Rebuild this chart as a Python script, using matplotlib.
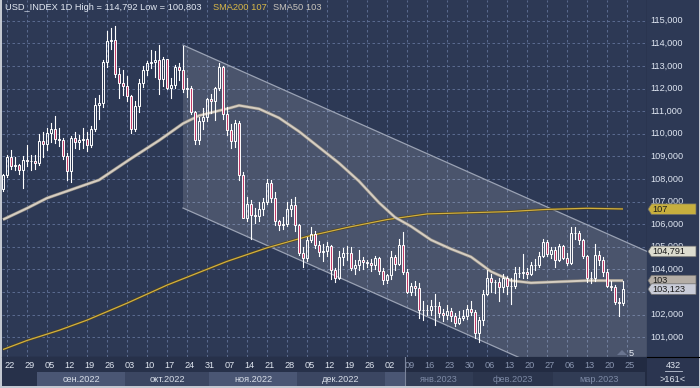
import matplotlib
matplotlib.use('Agg')
import matplotlib.pyplot as plt
from matplotlib.patches import Rectangle, Polygon
import numpy as np
import pandas as pd

plt.rcParams['font.family'] = ['Liberation Sans', 'DejaVu Sans']

# ---- data: USD_INDEX daily, 19 Aug 2022 .. 24 Mar 2023 ----
dates = pd.bdate_range('2022-08-19', '2023-03-24')

opens = [107.55,
         108.16, 108.99, 108.59, 108.62, 108.40,
         108.85, 108.78, 108.77, 108.70, 109.69,
         109.55, 110.01, 110.23, 109.76, 109.71,
         109.00, 108.33, 109.80, 109.63, 109.70,
         109.76, 109.48, 110.20, 111.26, 111.35,
         113.19, 114.10, 114.16, 112.62, 112.24,
         112.12, 111.68, 110.19, 111.22, 112.25,
         112.80, 113.15, 113.19, 113.26, 112.40,
         113.31, 112.04, 112.16, 112.97, 112.82,
         111.97, 112.03, 110.95, 109.73, 110.57,
         110.75, 111.53, 111.44, 112.04, 112.93,
         110.86, 110.17, 109.67, 110.48, 108.18,
         106.29, 106.89, 106.40, 106.35, 106.67,
         106.97, 107.81, 107.17, 106.15, 105.96,
         106.02, 106.68, 106.83, 105.95, 104.72,
         104.51, 105.29, 105.57, 105.09, 104.78,
         104.82, 105.04, 103.99, 103.62, 104.56,
         104.70, 104.71, 104.05, 104.19, 104.41,
         104.32, 104.26, 104.21, 104.49, 103.93,
         103.52, 103.75, 104.53, 104.25, 105.09,
         103.88, 103.01, 103.25, 103.18, 102.19,
         102.20, 102.19, 102.38, 102.36, 102.06,
         101.99, 102.14, 101.92, 101.64, 101.83,
         101.92, 102.26, 102.09, 101.20, 101.75,
         102.92, 103.62, 103.42, 103.42, 103.23,
         103.63, 103.28, 103.25, 103.82, 103.85,
         103.88, 103.81, 104.18, 104.20, 104.61,
         105.21, 104.66, 104.87, 104.43, 105.02,
         104.52, 104.29, 105.61, 105.59, 105.28,
         104.58, 103.60, 103.61, 104.65, 104.39,
         103.86, 103.28, 103.20, 102.57, 102.50]

highs = [108.22,
         109.06, 109.27, 108.95, 108.68, 109.00,
         109.48, 109.05, 109.05, 109.99, 110.09,
         110.27, 110.46, 110.79, 110.25, 109.83,
         109.15, 109.90, 110.07, 109.95, 110.26,
         110.08, 110.35, 111.57, 111.72, 113.26,
         114.53, 114.68, 114.78, 112.92, 112.80,
         112.55, 111.70, 111.45, 112.40, 112.99,
         113.21, 113.72, 113.65, 113.92, 113.38,
         113.32, 112.45, 113.06, 113.15, 113.89,
         112.48, 112.11, 111.00, 110.76, 111.12,
         111.59, 111.75, 112.05, 113.15, 113.00,
         111.17, 110.45, 110.59, 110.56, 108.30,
         107.20, 107.08, 106.70, 106.97, 107.15,
         107.99, 107.95, 107.40, 106.20, 106.30,
         106.96, 107.12, 107.18, 106.00, 105.00,
         105.45, 105.85, 105.70, 105.25, 105.10,
         105.23, 105.07, 104.05, 104.80, 104.93,
         105.05, 105.00, 104.40, 104.86, 104.53,
         104.40, 104.45, 104.58, 104.55, 104.05,
         103.80, 104.80, 104.65, 105.32, 105.63,
         104.02, 103.40, 103.50, 103.39, 102.60,
         102.40, 102.62, 102.90, 102.55, 102.25,
         102.40, 102.30, 102.07, 102.15, 102.18,
         102.40, 102.60, 102.18, 101.91, 103.07,
         103.96, 103.78, 103.54, 103.60, 103.80,
         103.70, 103.60, 104.10, 104.10, 104.67,
         104.05, 104.32, 104.45, 104.75, 105.36,
         105.30, 105.00, 105.00, 105.10, 105.08,
         104.70, 105.88, 105.88, 105.70, 105.35,
         104.62, 103.90, 105.10, 104.80, 104.55,
         104.00, 103.50, 103.30, 102.75, 103.50]

lows = [107.46,
        108.09, 108.45, 108.40, 108.20, 107.58,
        108.55, 108.40, 108.45, 108.60, 108.95,
        109.30, 109.65, 109.60, 109.44, 108.86,
        107.97, 107.88, 109.35, 109.33, 109.37,
        109.25, 109.40, 110.10, 110.65, 111.20,
        112.96, 113.75, 112.50, 111.60, 111.73,
        111.46, 110.05, 110.10, 110.95, 112.06,
        112.59, 112.92, 112.53, 111.76, 112.13,
        111.98, 111.60, 112.02, 112.36, 111.83,
        111.63, 110.86, 109.54, 109.53, 110.20,
        110.55, 110.90, 110.60, 111.95, 110.66,
        109.95, 109.37, 109.40, 107.97, 106.28,
        106.13, 105.34, 106.06, 106.15, 106.40,
        106.90, 107.00, 105.96, 105.73, 105.80,
        105.90, 106.35, 105.70, 104.65, 104.11,
        104.38, 105.20, 104.95, 104.60, 104.35,
        104.60, 103.57, 103.44, 103.55, 104.20,
        104.40, 103.97, 103.80, 103.97, 104.02,
        104.10, 103.93, 104.00, 103.79, 103.37,
        103.38, 103.55, 103.97, 104.20, 103.77,
        102.93, 102.88, 102.85, 101.85, 101.77,
        101.98, 102.00, 101.53, 101.88, 101.70,
        101.80, 101.70, 101.50, 101.56, 101.75,
        101.80, 101.99, 100.97, 100.80, 101.55,
        102.85, 103.00, 102.95, 102.60, 103.00,
        102.90, 102.48, 103.18, 103.65, 103.60,
        103.60, 103.75, 103.95, 104.10, 104.55,
        104.60, 104.50, 104.10, 104.38, 104.45,
        104.17, 104.25, 105.35, 105.10, 104.50,
        103.45, 103.40, 103.50, 104.20, 103.70,
        103.20, 103.10, 102.45, 101.92, 102.40]

closes = [108.16,
          108.99, 108.59, 108.62, 108.40, 108.85,
          108.78, 108.77, 108.70, 109.69, 109.55,
          110.01, 110.23, 109.76, 109.71, 109.00,
          108.33, 109.80, 109.63, 109.70, 109.76,
          109.48, 110.20, 111.26, 111.35, 113.19,
          114.10, 114.16, 112.62, 112.24, 112.12,
          111.68, 110.19, 111.22, 112.25, 112.80,
          113.15, 113.19, 113.26, 112.40, 113.31,
          112.04, 112.16, 112.97, 112.82, 111.97,
          112.03, 110.95, 109.73, 110.57, 110.75,
          111.53, 111.44, 112.04, 112.93, 110.86,
          110.17, 109.67, 110.48, 108.18, 106.29,
          106.89, 106.40, 106.35, 106.67, 106.97,
          107.81, 107.17, 106.15, 105.96, 106.02,
          106.68, 106.83, 105.95, 104.72, 104.51,
          105.29, 105.57, 105.09, 104.78, 104.82,
          105.04, 103.99, 103.62, 104.56, 104.70,
          104.71, 104.05, 104.19, 104.41, 104.32,
          104.26, 104.21, 104.49, 103.93, 103.52,
          103.75, 104.53, 104.25, 105.09, 103.88,
          103.01, 103.25, 103.18, 102.19, 102.20,
          102.19, 102.38, 102.36, 102.06, 101.99,
          102.14, 101.92, 101.64, 101.83, 101.92,
          102.26, 102.09, 101.20, 101.75, 102.92,
          103.62, 103.42, 103.42, 103.23, 103.63,
          103.28, 103.25, 103.82, 103.85, 103.88,
          103.81, 104.18, 104.20, 104.61, 105.21,
          104.66, 104.87, 104.43, 105.02, 104.52,
          104.29, 105.61, 105.59, 105.28, 104.58,
          103.60, 103.61, 104.65, 104.39, 103.86,
          103.28, 103.20, 102.57, 102.50, 103.12]

# moving averages (bar index, value)
sma50_idx = [-1, 5, 10, 23, 31, 38, 44, 48, 56, 58, 63, 68, 73, 78, 83, 88,
             93, 97, 101, 106, 111, 116, 121, 126, 131, 138, 145, 154]
sma50_val = [106.2, 106.7, 107.15, 107.95, 108.9, 109.7, 110.45, 110.8, 111.15,
             111.25, 111.1, 110.7, 110.1, 109.4, 108.7, 107.9, 106.95, 106.3,
             105.9, 105.3, 104.9, 104.55, 103.9, 103.5, 103.4, 103.45, 103.5, 103.5]
sma200_idx = [-1, 5, 13, 20, 30, 40, 50, 55, 65, 75, 85, 95, 105, 115, 125, 135, 145, 154]
sma200_val = [100.45, 100.85, 101.3, 101.75, 102.5, 103.3, 104.0, 104.35, 104.95,
              105.45, 105.85, 106.2, 106.45, 106.5, 106.55, 106.65, 106.7, 106.67]

# trend channel (start bar, top value at start, top value at right edge, width)
chan_start, chan_end = 44, 160
chan_top0, chan_top1 = 113.92, 104.791
chan_width = 7.21

week_idx = list(range(0, 156, 5))
week_lbl = ['22', '29', '05', '12', '19', '26', '03', '10', '17', '24', '31',
            '07', '14', '21', '28', '05', '12', '19', '26', '02', '09', '16',
            '23', '30', '06', '13', '20', '27', '06', '13', '20', '25']
month_lbl = ['сен.2022', 'окт.2022', 'ноя.2022', 'дек.2022', 'янв.2023', 'фев.2023', 'мар.2023']
month_start = [8, 30, 51, 73, 95, 117, 137, 160]

last_price = 103.123
sma50_last = 103.5
sma200_last = 106.66

# ---- figure layout (pixel based) ----
W, H = 700, 388
fig = plt.figure(figsize=(7, 3.88), dpi=100, facecolor='#c3c8d1')
BG = '#2d3955'
x0, xr, yb = 2, 647, 357
ax = fig.add_axes([x0 / W, (H - yb) / H, (xr - x0) / W, yb / H])
axb = fig.add_axes([x0 / W, 2 / H, (xr - x0) / W, 29 / H])
axr = fig.add_axes([xr / W, (H - yb) / H, (W - 1 - xr) / W, yb / H])
axc = fig.add_axes([xr / W, 2 / H, (W - 1 - xr) / W, 29 / H])

xmin, xmax = (x0 - 7) / 4, (xr - 7) / 4
ymax = 115 + 20.7 / 22.6
ymin = 115 - (yb - 20.7) / 22.6

for a in (ax, axb, axr, axc):
    a.set_xticks([])
    a.set_yticks([])
    for s in a.spines.values():
        s.set_visible(False)

ax.set_facecolor(BG)
ax.set_xlim(xmin, xmax)
ax.set_ylim(ymin, ymax)
ax.spines['right'].set_visible(True)
ax.spines['right'].set_color('black')
ax.spines['bottom'].set_visible(True)
ax.spines['bottom'].set_color('black')

gridc = '#62739a'
for v in range(101, 116):
    ax.axhline(v, color=gridc, lw=0.6, ls=(0, (3, 3)), zorder=1)
for i in week_idx:
    ax.axvline(i, color=gridc, lw=0.6, ls=(0, (3, 3)), zorder=1)

# channel
slope = (chan_top1 - chan_top0) / (chan_end - chan_start)
top_end = chan_top0 + slope * (chan_end - chan_start)
poly = Polygon([(chan_start, chan_top0), (chan_end, top_end),
                (chan_end, top_end - chan_width), (chan_start, chan_top0 - chan_width)],
               closed=True, facecolor='white', alpha=0.14, edgecolor='none', zorder=2)
ax.add_patch(poly)
ax.plot([chan_start, chan_end], [chan_top0, top_end], color='#9aa2b4', lw=0.9, zorder=2)
ax.plot([chan_start, chan_end], [chan_top0 - chan_width, top_end - chan_width],
        color='#9aa2b4', lw=0.9, zorder=2)

# moving averages
ax.plot(sma200_idx, sma200_val, color='#4d4322', lw=1.8, zorder=3, solid_capstyle='butt')
ax.plot(sma200_idx, sma200_val, color='#d2b040', lw=0.9, zorder=3, solid_capstyle='butt')
ax.plot(sma50_idx, sma50_val, color='#8c8780', lw=2.3, zorder=3, solid_capstyle='butt')
ax.plot(sma50_idx, sma50_val, color='#d6cec2', lw=1.4, zorder=3, solid_capstyle='butt')

# candles
xs = np.arange(len(dates)) - 1
for x, o, h, l, c in zip(xs, opens, highs, lows, closes):
    lo, hi = min(o, c), max(o, c)
    ax.plot([x, x], [l, lo], color='white', lw=0.8, zorder=4)
    ax.plot([x, x], [hi, h], color='white', lw=0.8, zorder=4)
    fc = '#c23b67' if c < o else 'none'
    ax.add_patch(Rectangle((x - 0.36, lo), 0.72, max(hi - lo, 0.03),
                           facecolor=fc, edgecolor='white', lw=0.7, zorder=5))

# header
ax.text(3 / (xr - x0), 1 - 8 / yb, 'USD_INDEX 1D High = 114,792 Low = 100,803',
        transform=ax.transAxes, color='#e2e8f2', fontsize=6.7, va='center', ha='left', zorder=6)
ax.text(211 / (xr - x0), 1 - 8 / yb, 'SMA200 107', transform=ax.transAxes,
        color='#d8b848', fontsize=6.7, va='center', ha='left', zorder=6)
ax.text(271 / (xr - x0), 1 - 8 / yb, 'SMA50 103', transform=ax.transAxes,
        color='#c8c4bc', fontsize=6.7, va='center', ha='left', zorder=6)

# small marker near bottom right
ax.text((631 - x0) / (xr - x0), (yb - 353) / yb, '5', transform=ax.transAxes,
        color='#e8ecf4', fontsize=6.6, va='center', ha='center', zorder=6)
ax.add_patch(Polygon([((617 - x0) / (xr - x0), 2 / yb), ((622 - x0) / (xr - x0), 7 / yb),
                      ((627 - x0) / (xr - x0), 2 / yb)], closed=True,
                     transform=ax.transAxes, facecolor='#6a7590', edgecolor='none', zorder=6))

# ---- bottom date strip ----
axb.set_xlim(xmin, xmax)
axb.set_ylim(0, 29)
axb.set_facecolor('#27314a')
split = 99.5
light, mid = '#4a5674', '#3b4662'
for k, lab in enumerate(month_lbl):
    a0, a1 = month_start[k] - 0.5, month_start[k + 1] - 0.5
    col = light if k % 2 == 0 else mid
    axb.add_patch(Rectangle((a0, 0), a1 - a0, 14, facecolor=col, edgecolor='none', zorder=1))
# dimmed right part
axb.add_patch(Rectangle((split, 0), xmax - split, 29, facecolor='#1e273d', alpha=0.55,
                        edgecolor='none', zorder=2))
axb.axvline(split, color='#7a849a', lw=0.8, zorder=3)
for k, lab in enumerate(month_lbl):
    a0, a1 = month_start[k] - 0.5, month_start[k + 1] - 0.5
    cx = (max(a0, 0) + min(a1, xmax)) / 2
    if k == 4:
        cx = (split + a1) / 2
    colt = '#d8dee8' if a0 < split and k < 4 else '#7d8aa5'
    axb.text(cx, 6.5, lab, color=colt, fontsize=6.6, ha='center', va='center', zorder=4)
for i, lab in zip(week_idx, week_lbl):
    colt = '#e0e6f0' if i < split else '#8a96b0'
    axb.text(i + 0.6, 21, lab, color=colt, fontsize=6.6, ha='center', va='center', zorder=4)

# ---- right price axis ----
axr.set_facecolor(BG)
axr.set_xlim(0, W - 1 - xr)
axr.set_ylim(ymin, ymax)
for v in range(101, 116):
    if v == 103:
        continue  # fully hidden behind the price tags
    axr.text(3, v, f'{v:.3f}'.replace('.', ','), color='#dfe6f2', fontsize=6.6,
             ha='left', va='center', zorder=2)


def tag(y, text, fc):
    hh = 0.235
    axr.add_patch(Polygon([(1, y), (4.5, y + hh), (49, y + hh), (49, y - hh), (4.5, y - hh)],
                          closed=True, facecolor=fc, edgecolor='#6b6b6b', lw=0.5, zorder=3))
    axr.text(5, y, text, color='#1b1b1b', fontsize=6.6, ha='left', va='center', zorder=4)


tag(sma200_last, '107', '#c7af3e')
tag(top_end, f'{chan_top1:.3f}'.replace('.', ','), '#dcdccf')
tag(sma50_last, '103', '#b5aea6')
tag(last_price, f'{last_price:.3f}'.replace('.', ','), '#c9ccd8')

# ---- corner box ----
axc.set_facecolor('#2b3550')
axc.set_xlim(0, W - 1 - xr)
axc.set_ylim(0, 29)
axc.spines['top'].set_visible(True)
axc.spines['top'].set_color('black')
axc.text(26, 21, '432', color='#e0e6f0', fontsize=6.6, ha='center', va='center')
axc.plot([18, 35], [15.5, 15.5], color='#c0c8d8', lw=0.6)
axc.text(26, 7, '>161<', color='#e0e6f0', fontsize=6.6, ha='center', va='center')

fig.savefig('out.png', dpi=100, facecolor=fig.get_facecolor())
